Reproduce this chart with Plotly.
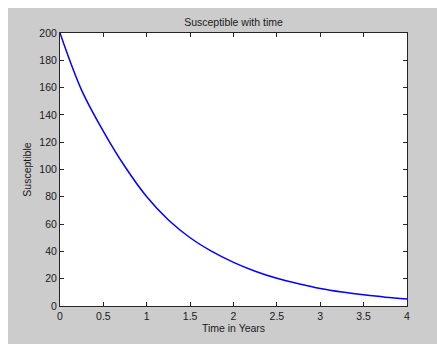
import plotly.graph_objects as go

time_years = [0, 0.25, 0.5, 0.75, 1.0, 1.25, 1.5, 1.75, 2.0, 2.25, 2.5, 2.75, 3.0, 3.25, 3.5, 3.75, 4.0]
susceptible = [200, 158, 128, 102, 80, 63, 50, 40, 32, 25.5, 20.3, 16.3, 12.8, 10.2, 8.2, 6.5, 5.2]
x_ticks = [0, 0.5, 1, 1.5, 2, 2.5, 3, 3.5, 4]
x_tick_labels = ["0", "0.5", "1", "1.5", "2", "2.5", "3", "3.5", "4"]
y_ticks = [0, 20, 40, 60, 80, 100, 120, 140, 160, 180, 200]

FONT = "Liberation Sans, Arial, sans-serif"

fig = go.Figure()
fig.add_trace(go.Scatter(x=time_years, y=susceptible, mode="lines",
                         line=dict(color="#0000ff", width=1.5, shape="spline"),
                         showlegend=False, hoverinfo="skip"))

axis_common = dict(showline=True, linecolor="#262626", linewidth=1, mirror="ticks",
                   ticks="inside", ticklen=4, tickcolor="#262626", showgrid=False,
                   zeroline=False, tickfont=dict(family=FONT, size=10.5, color="#1a1a1a"))

fig.update_xaxes(range=[0, 4], tickvals=x_ticks, ticktext=x_tick_labels,
                 title=dict(text="Time in Years", font=dict(family=FONT, size=10.5, color="#1a1a1a"), standoff=4),
                 **axis_common)
fig.update_yaxes(range=[0, 200], tickvals=y_ticks,
                 title=dict(text="Susceptible", font=dict(family=FONT, size=10.5, color="#1a1a1a"), standoff=5),
                 **axis_common)

W, H = 437, 344
L, R, T, B = 60, 30, 33, 38
pw, ph = W - L - R, H - T - B

def px_x(p):
    return (p - L) / pw

def px_y(p):
    return (H - B - p) / ph

fig.update_layout(
    width=W, height=H,
    margin=dict(l=L, r=R, t=T, b=B, pad=0),
    paper_bgcolor="#cccccc", plot_bgcolor="#ffffff",
    title=dict(text="Susceptible with time", x=0.5 * (L + W - R) / W, xanchor="center",
               y=1 - 22 / H, yanchor="middle",
               font=dict(family=FONT, size=10.5, color="#1a1a1a")),
    shapes=[
        dict(type="rect", xref="paper", yref="paper", x0=px_x(0), x1=px_x(W), y0=px_y(0), y1=px_y(8),
             fillcolor="#ffffff", line=dict(width=0), layer="below"),
        dict(type="rect", xref="paper", yref="paper", x0=px_x(0), x1=px_x(8), y0=px_y(0), y1=px_y(H),
             fillcolor="#ffffff", line=dict(width=0), layer="below"),
    ],
)

fig.write_html("out.html")
